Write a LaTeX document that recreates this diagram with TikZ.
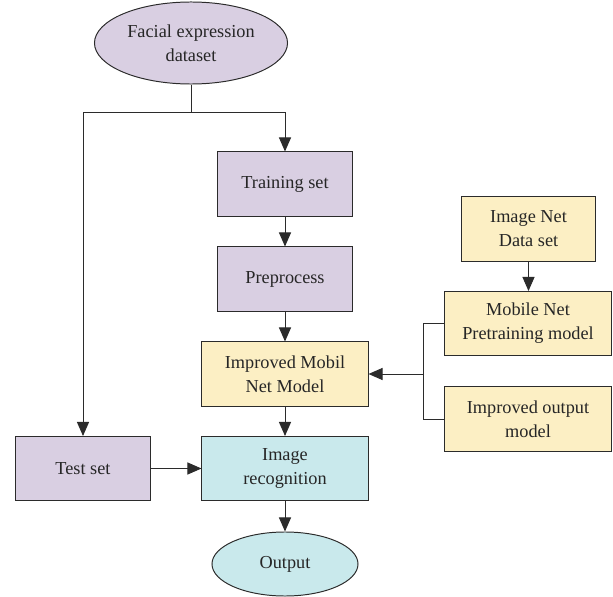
\documentclass[tikz,border=0pt]{standalone}
\usepackage{fontspec}
\setmainfont{Liberation Serif}
\usetikzlibrary{arrows.meta,shapes.geometric}
\definecolor{lila}{HTML}{D9CFE2}
\definecolor{gelb}{HTML}{FCEFC4}
\definecolor{tuerkis}{HTML}{C9E9EC}
\definecolor{rand}{HTML}{2B2B2B}
\begin{document}
\begin{tikzpicture}[x=0.025cm,y=-0.025cm]

\tikzset{
	box/.style={draw=rand,line width=0.7pt,align=center,inner sep=1pt,
		font=\fontsize{13}{17}\selectfont,text=black!85},
	smallbox/.style={box,minimum width=3.35cm,minimum height=1.6cm},
	widebox/.style={box,minimum width=4.15cm,minimum height=1.6cm},
	oval/.style={box,ellipse},
	arr/.style={draw=rand,line width=0.7pt,-{Triangle[length=3.5mm,width=3mm]}},
	ln/.style={draw=rand,line width=0.7pt}
}
\useasboundingbox (0,0) rectangle (613,597);

        %top
        \node[oval,fill=lila,minimum width=4.825cm,minimum height=2.05cm] (data) at (191,43) {Facial expression\\dataset};
        \node[smallbox,fill=lila] (train) at (285,184) {Training set};
        \node[smallbox,fill=lila] (prep) at (285,279) {Preprocess};
        \node[widebox,fill=gelb] (improved) at (285,374) {Improved Mobil\\Net Model};
        \node[widebox,fill=tuerkis] (recog) at (285,468.5) {Image\\recognition};
        \node[oval,fill=tuerkis,minimum width=3.65cm,minimum height=1.6cm] (out) at (285,564) {Output};
        \node[smallbox,fill=lila] (test) at (83,468.5) {Test set};
        %right side
        \node[smallbox,fill=gelb] (imgnet) at (528.5,229) {Image Net\\Data set};
        \node[widebox,fill=gelb] (mobile) at (528,323.5) {Mobile Net\\Pretraining model};
        \node[widebox,fill=gelb] (impout) at (528,419) {Improved output\\model};

        \coordinate (split) at (191,112);
        \coordinate (bus) at (423,374);

        %split into train and test
        \draw[ln] (data.south) -- (split);
        \draw[arr] (split) -- (test.north |- split) -- (test.north);
        \draw[arr] (split) -- (train.north |- split) -- (train.north);
        \draw[arr] (train) -- (prep);
        \draw[arr] (prep) -- (improved);
        \draw[arr] (improved) -- (recog);
        \draw[arr] (recog) -- (out);
        \draw[arr] (test) -- (recog);
        %pretrained part
        \draw[arr] (imgnet) -- (imgnet.south |- mobile.north);
        \draw[ln] (mobile.west) -- (mobile.west -| bus) -- (impout.west -| bus) -- (impout.west);
        \draw[arr] (bus) -- (improved.east);
    \end{tikzpicture}
\end{document}
